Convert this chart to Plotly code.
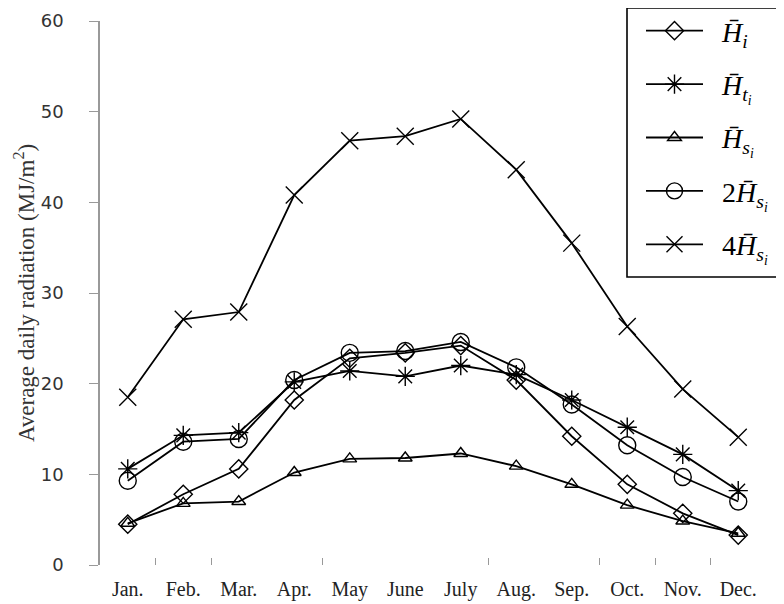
import plotly.graph_objects as go

months = ["Jan.", "Feb.", "Mar.", "Apr.", "May", "June", "July", "Aug.", "Sep.", "Oct.", "Nov.", "Dec."]
H_i = [4.5, 7.8, 10.6, 18.2, 22.8, 23.4, 24.2, 20.4, 14.2, 8.9, 5.7, 3.3]
H_t = [10.6, 14.3, 14.6, 20.2, 21.4, 20.8, 22.0, 21.0, 18.2, 15.2, 12.2, 8.2]
H_s = [4.6, 6.8, 7.0, 10.2, 11.7, 11.8, 12.3, 10.9, 8.9, 6.6, 4.85, 3.5]
H_s2 = [9.3, 13.6, 13.9, 20.4, 23.4, 23.6, 24.6, 21.8, 17.7, 13.2, 9.7, 7.0]
H_s4 = [18.5, 27.1, 27.9, 40.8, 46.8, 47.3, 49.2, 43.6, 35.5, 26.3, 19.4, 14.1]
y_ticks = [0, 10, 20, 30, 40, 50, 60]
boundary_ticks = [0.5, 1.5, 3.5, 6.5, 8.5, 9.5, 10.5]

pad = "\u00a0\u00a0"
names = [
    pad + "<i>H\u0304</i><sub><i>i</i></sub>",
    pad + "<i>H\u0304</i><sub><i>t<sub>i</sub></i></sub>",
    pad + "<i>H\u0304</i><sub><i>s<sub>i</sub></i></sub>",
    pad + "2<i>H\u0304</i><sub><i>s<sub>i</sub></i></sub>",
    pad + "4<i>H\u0304</i><sub><i>s<sub>i</sub></i></sub>",
]
series = [H_i, H_t, H_s, H_s2, H_s4]
symbols = ["diamond-open", "asterisk-open", "triangle-up-open", "circle-open", "x-thin-open"]
sizes = [14, 16, 12, 17, 17]

x = list(range(len(months)))
fig = go.Figure()
for i, (nm, ys, sym, sz) in enumerate(zip(names, series, symbols, sizes)):
    fig.add_trace(go.Scatter(
        x=x, y=ys, name=nm, mode="lines+markers",
        line=dict(color="black", width=1.8),
        marker=dict(symbol=sym, size=sz, color="black", line=dict(width=1.4, color="black")),
        legendgroup=f"g{i}",
    ))

fig.add_trace(go.Scatter(x=[0], y=[0], xaxis="x2", mode="markers",
                         marker=dict(opacity=0), showlegend=False, hoverinfo="skip"))

# page has an 8px body margin, compensated in the margins below
L, T, PW, PH = 92, 13, 666, 544
def px(fx):
    return (fx - L) / PW
def py(fy):
    return (T + PH - fy) / PH

fig.add_shape(type="rect", xref="paper", yref="paper",
              x0=px(619), x1=px(773), y0=py(269), y1=py(0),
              line=dict(color="black", width=1.6), fillcolor="rgba(0,0,0,0)", layer="above")

fig.update_layout(
    width=784, height=604,
    margin=dict(l=L, r=784 - L - PW, t=T, b=604 - T - PH, autoexpand=False),
    paper_bgcolor="white", plot_bgcolor="white",
    showlegend=True,
    legend=dict(
        x=px(633), y=py(-2), xanchor="left", yanchor="top",
        borderwidth=0, bgcolor="rgba(0,0,0,0)",
        font=dict(family="Liberation Serif", size=28, color="black"),
        tracegroupgap=14, itemwidth=57,
    ),
    xaxis=dict(
        range=[-0.5, 11.5], tickvals=x, ticktext=months, ticks="",
        showline=False, showgrid=False, zeroline=False, ticklabelstandoff=10,
        tickfont=dict(family="Liberation Serif", size=20, color="#222"),
    ),
    xaxis2=dict(
        range=[-0.5, 11.5], overlaying="x", anchor="y", side="bottom",
        tickvals=boundary_ticks, ticks="inside", ticklen=7, tickcolor="#999", tickwidth=1.2,
        showticklabels=False, showline=False, showgrid=False, zeroline=False,
    ),
    yaxis=dict(
        range=[0, 60], tickvals=y_ticks, ticks="outside", ticklen=9,
        tickcolor="#999", tickwidth=1.2,
        showline=True, linecolor="#999", linewidth=1.5,
        showgrid=False, zeroline=False, ticklabelstandoff=22,
        tickfont=dict(family="DejaVu Sans", size=18, color="#333"),
        title=dict(text="Average daily radiation (MJ/m<sup>2</sup>)", standoff=0,
                   font=dict(family="Liberation Serif", size=23, color="#333")),
    ),
)

fig.write_html("out.html")
